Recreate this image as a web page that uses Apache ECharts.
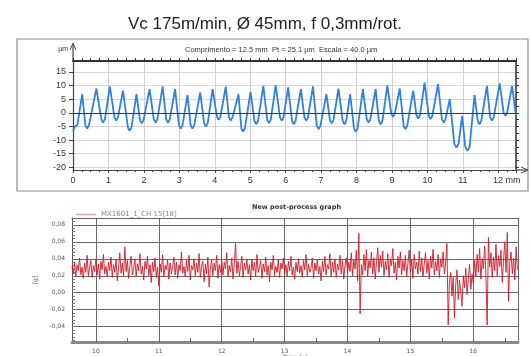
<!DOCTYPE html>
<html>
<head>
<meta charset="utf-8">
<script src="https://cdn.jsdelivr.net/npm/echarts@6/dist/echarts.min.js"></script>
<style>
html, body { margin: 0; padding: 0; background: #fff; }
#chart { width: 530px; height: 356px; }
</style>
</head>
<body>
<div id="chart"></div>
<script>
// perfil medido: [comprimento mm, altura µm]
var profile = [
  [0.00, -6.6], [0.06, -5.0], [0.12, -4.6], [0.26, 6.8],
  [0.35, -4.6], [0.40, -5.8], [0.45, -4.6], [0.66, 8.9],
  [0.80, -2.4], [0.85, -3.6], [0.90, -2.4], [1.04, 9.7],
  [1.17, -1.7], [1.22, -2.9], [1.27, -1.7], [1.41, 8.1],
  [1.55, -5.4], [1.60, -6.6], [1.65, -5.4], [1.79, 6.8],
  [1.89, -2.7], [1.94, -3.9], [1.99, -2.7], [2.16, 8.7],
  [2.28, -2.4], [2.33, -3.6], [2.38, -2.4], [2.53, 9.7],
  [2.63, -2.4], [2.68, -3.6], [2.73, -2.4], [2.88, 8.7],
  [2.99, -4.6], [3.04, -5.8], [3.09, -4.6], [3.23, 6.6],
  [3.32, -4.6], [3.37, -5.8], [3.42, -4.6], [3.59, 7.5],
  [3.70, -3.9], [3.75, -5.1], [3.80, -3.9], [3.94, 8.7],
  [4.06, -1.4], [4.11, -2.6], [4.16, -1.4], [4.31, 9.6],
  [4.40, -1.7], [4.45, -2.9], [4.50, -1.7], [4.67, 6.8],
  [4.75, -5.7], [4.80, -6.9], [4.85, -5.7], [5.01, 7.7],
  [5.12, -3.0], [5.17, -4.2], [5.22, -3.0], [5.37, 9.9],
  [5.48, -2.6], [5.53, -3.8], [5.58, -2.6], [5.72, 10.1],
  [5.84, -1.7], [5.89, -2.9], [5.94, -1.7], [6.07, 9.3],
  [6.18, -3.0], [6.23, -4.2], [6.28, -3.0], [6.43, 8.7],
  [6.53, -1.7], [6.58, -2.9], [6.63, -1.7], [6.77, 9.7],
  [6.88, -4.8], [6.93, -6.0], [6.98, -4.8], [7.15, 6.8],
  [7.25, -2.7], [7.30, -3.9], [7.35, -2.7], [7.49, 8.9],
  [7.61, -3.0], [7.66, -4.2], [7.71, -3.0], [7.82, 6.8],
  [7.93, -5.8], [7.98, -7.0], [8.03, -5.8], [8.18, 8.7],
  [8.29, -2.4], [8.34, -3.6], [8.39, -2.4], [8.54, 8.7],
  [8.63, -3.0], [8.68, -4.2], [8.73, -3.0], [8.87, 10.1],
  [8.98, -0.3], [9.03, -1.5], [9.08, -0.3], [9.22, 8.9],
  [9.33, -4.8], [9.38, -6.0], [9.43, -4.8], [9.60, 8.1],
  [9.69, -0.9], [9.74, -2.1], [9.79, -0.9], [9.92, 11.1],
  [10.04, -1.1], [10.09, -2.3], [10.14, -1.1], [10.30, 10.5],
  [10.41, -2.4], [10.46, -3.6], [10.51, -2.4], [10.63, 5.0],
  [10.76, -11.4], [10.82, -12.8], [10.88, -11.4], [10.98, -1.1],
  [11.07, -12.6], [11.13, -14.0], [11.19, -12.6], [11.33, 6.5],
  [11.42, -3.0], [11.47, -4.2], [11.52, -3.0], [11.68, 9.9],
  [11.77, -1.7], [11.82, -2.9], [11.87, -1.7], [12.04, 10.8],
  [12.15, 0.1], [12.20, -1.1], [12.25, 0.1], [12.39, 9.9],
  [12.50, -1.1]
];
var profXLabels = [0, 1, 2, 3, 4, 5, 6, 7, 8, 9, 10, 11, 12];
var profYTicks = [-20, -15, -10, -5, 0, 5, 10, 15];
var profYMinor = [-20, -17.5, -15, -12.5, -10, -7.5, -5, -2.5, 0, 2.5, 5, 7.5, 10, 12.5, 15, 17.5];

// aceleração [g], amostras a cada 0.02 s a partir de 9.62 s
var accelStart = 9.62;
var accelStep = 0.02;
var accel = [
  0.031, 0.022, 0.036, 0.019, 0.033, 0.026, 0.041, 0.021, 0.030, 0.017,
  0.035, 0.024, 0.044, 0.020, 0.029, 0.038, 0.018, 0.032, 0.025, 0.040,
  0.021, 0.034, 0.016, 0.037, 0.027, 0.045, 0.022, 0.031, 0.019, 0.036,
  0.026, 0.042, 0.018, 0.033, 0.024, 0.039, 0.014, 0.030, 0.047, 0.023,
  0.035, 0.020, 0.054, 0.025, 0.038, 0.017, 0.032, 0.043, 0.021, 0.029,
  0.040, 0.019, 0.034, 0.026, 0.046, 0.022, 0.031, 0.015, 0.037, 0.028,
  0.043, 0.020, 0.033, 0.012, 0.036, 0.025, 0.041, 0.018, 0.030, 0.008,
  0.034, 0.024, 0.045, 0.019, 0.032, 0.027, 0.039, 0.016, 0.035, 0.022,
  0.030, 0.042, 0.021, 0.036, 0.017, 0.033, 0.026, 0.048, 0.023, 0.031,
  0.019, 0.038, 0.025, 0.044, 0.015, 0.032, 0.027, 0.040, 0.020, 0.035,
  0.024, 0.046, 0.018, 0.031, 0.037, 0.013, 0.034, 0.022, 0.042, 0.007,
  0.029, 0.039, 0.020, 0.035, 0.026, 0.044, 0.017, 0.033, 0.024, 0.038,
  0.021, 0.036, 0.028, 0.047, 0.019, 0.032, 0.025, 0.041, 0.016, 0.034,
  0.058, 0.023, 0.037, 0.020, 0.031, 0.043, 0.018, 0.035, 0.027, 0.039,
  0.022, 0.033, 0.015, 0.040, 0.026, 0.036, 0.019, 0.045, 0.024, 0.030,
  0.038, 0.017, 0.034, 0.025, 0.042, 0.021, 0.032, 0.013, 0.036, 0.027,
  0.044, 0.020, 0.031, 0.024, 0.039, 0.018, 0.035, 0.028, 0.041, 0.022,
  0.033, 0.019, 0.037, 0.026, 0.043, 0.021, 0.030, 0.016, 0.036, 0.025,
  0.040, 0.023, 0.032, 0.018, 0.038, 0.027, 0.045, 0.020, 0.034, 0.024,
  0.029, 0.041, 0.017, 0.035, 0.026, 0.039, 0.022, 0.031, 0.014, 0.037,
  0.025, 0.043, 0.021, 0.033, 0.028, 0.046, 0.019, 0.036, 0.024, 0.040,
  0.018, 0.034, 0.027, 0.044, 0.022, 0.038, 0.016, 0.032, 0.041, 0.023,
  0.036, 0.025, 0.047, 0.020, 0.039, 0.028, 0.050, 0.014, 0.070, -0.025,
  0.033, 0.021, 0.045, 0.026, 0.051, 0.019, 0.038, 0.029, 0.048, 0.022,
  0.041, 0.016, 0.035, 0.053, 0.024, 0.044, 0.030, 0.049, 0.020, 0.037,
  0.027, 0.046, 0.018, 0.040, 0.032, 0.052, 0.023, 0.036, 0.015, 0.043,
  0.029, 0.048, 0.021, 0.038, 0.026, 0.044, 0.019, 0.034, 0.050, 0.024,
  0.039, 0.017, 0.045, 0.028, 0.036, 0.022, 0.049, 0.025, 0.041, 0.019,
  0.034, 0.047, 0.023, 0.038, 0.016, 0.043, 0.029, 0.051, 0.021, 0.037,
  0.026, 0.045, 0.018, 0.040, 0.030, 0.048, 0.022, 0.035, 0.058, -0.038,
  0.012, 0.024, -0.004, 0.018, -0.030, 0.010, 0.027, -0.008, 0.015, 0.002,
  -0.016, 0.020, 0.006, 0.029, -0.002, 0.016, 0.033, 0.004, 0.022, 0.011,
  0.038, 0.019, 0.045, 0.024, 0.052, 0.016, 0.040, 0.028, 0.055, 0.021,
  -0.038, 0.065, 0.030, 0.047, 0.018, 0.042, 0.026, 0.057, 0.020, 0.044,
  0.031, 0.050, 0.012, 0.039, 0.060, 0.024, 0.071, -0.010, 0.036, 0.048,
  0.022, 0.041, 0.015, 0.054, 0.027
];
var timeLabels = [10, 11, 12, 13, 14, 15, 16];
var timeTicks = [10, 10.5, 11, 11.5, 12, 12.5, 13, 13.5, 14, 14.5, 15, 15.5, 16, 16.5];
var gLabels = [-0.04, -0.02, 0, 0.02, 0.04, 0.06, 0.08];
var gTicks = [-0.056, -0.052, -0.048, -0.044, -0.04, -0.036, -0.032, -0.028, -0.024, -0.02,
  -0.016, -0.012, -0.008, -0.004, 0, 0.004, 0.008, 0.012, 0.016, 0.02, 0.024, 0.028, 0.032,
  0.036, 0.04, 0.044, 0.048, 0.052, 0.056, 0.06, 0.064, 0.068, 0.072, 0.076, 0.08, 0.084, 0.088];

var accelData = accel.map(function (v, i) {
  return [+(accelStart + i * accelStep).toFixed(2), v];
});

var myChart = echarts.init(document.getElementById('chart'));

var topFont = 'Liberation Sans, Arial, sans-serif';
var botFont = 'DejaVu Sans, Verdana, sans-serif';

option = {
  animation: false,
  backgroundColor: '#fff',
  title: [{
    text: 'Vc 175m/min, Ø 45mm, f 0,3mm/rot.',
    left: 'center', top: 11,
    textStyle: { fontFamily: topFont, fontSize: 17, fontWeight: 'normal', color: '#222' }
  }, {
    text: 'Comprimento = 12.5 mm  Pt = 25.1 µm  Escala = 40.0 µm',
    left: 180, top: 41,
    textStyle: { fontFamily: topFont, fontSize: 7.5, fontWeight: 'normal', color: '#333' }
  }, {
    text: 'New post-process graph',
    left: 247, top: 199,
    textStyle: { fontFamily: botFont, fontSize: 6.5, fontWeight: 'bold', color: '#333' }
  }],
  legend: {
    left: 71, top: 206,
    itemWidth: 20, itemHeight: 1.5, itemGap: 6,
    data: [{ name: 'MX1601_1_CH 15[18]', icon: 'rect', itemStyle: { color: '#f2a1a9' } }],
    textStyle: { fontFamily: botFont, fontSize: 7, color: '#888' }
  },
  grid: [
    { left: 73, top: 61, width: 443, height: 109, outerBoundsMode: 'none' },
    { left: 72, top: 218, width: 446, height: 124, outerBoundsMode: 'none' }
  ],
  xAxis: [{
    // perfil, eixo inferior
    type: 'value', gridIndex: 0, position: 'bottom',
    min: 0, max: 12.5, interval: 1,
    axisLine: { onZero: false, lineStyle: { color: '#444', width: 1.2 } },
    axisTick: { inside: false, length: 3, lineStyle: { color: '#444' } },
    minorTick: { show: true, splitNumber: 4, length: 2, lineStyle: { color: '#444' } },
    axisLabel: {
      customValues: profXLabels, margin: 6,
      fontFamily: topFont, fontSize: 9, color: '#333',
      formatter: function (v) { return v === 12 ? '{u|12 mm}' : String(v); },
      rich: { u: { padding: [0, 0, 0, 17], fontFamily: topFont, fontSize: 9, color: '#333' } }
    },
    splitLine: { show: true, lineStyle: { color: '#cfcfcf', width: 1 } }
  }, {
    // perfil, borda superior
    type: 'value', gridIndex: 0, position: 'top',
    min: 0, max: 12.5, interval: 1,
    axisLine: { onZero: false, lineStyle: { color: '#333', width: 2 } },
    axisTick: { inside: false, length: 3, lineStyle: { color: '#333' } },
    minorTick: { show: true, splitNumber: 4, length: 3, lineStyle: { color: '#333' } },
    axisLabel: { show: false },
    splitLine: { show: false }
  }, {
    // tempo
    type: 'value', gridIndex: 1, position: 'bottom',
    min: 9.62, max: 16.71,
    name: 'Time [s]', nameLocation: 'middle', nameGap: 11,
    nameTextStyle: { fontFamily: botFont, fontSize: 6, color: '#555' },
    axisLine: { onZero: false, lineStyle: { color: '#888', width: 3 } },
    axisTick: { customValues: timeTicks, inside: true, length: 4, lineStyle: { color: '#666' } },
    axisLabel: { customValues: timeLabels, margin: 6, fontFamily: botFont, fontSize: 6, color: '#555' },
    splitLine: { show: false }
  }, {
    // tempo, grade vertical e borda superior
    type: 'value', gridIndex: 1, position: 'top',
    min: 9.62, max: 16.71,
    axisLine: { onZero: false, lineStyle: { color: '#666', width: 1 } },
    axisTick: { show: false, customValues: timeLabels },
    axisLabel: { show: false },
    splitLine: { show: true, lineStyle: { color: '#6a6a6a', width: 1 } }
  }],
  yAxis: [{
    type: 'value', gridIndex: 0, position: 'left',
    min: -21, max: 19,
    name: 'µm', nameLocation: 'end', nameGap: 8,
    nameTextStyle: { fontFamily: topFont, fontSize: 7, color: '#333', align: 'right', padding: [0, 5, 0, 0] },
    axisLine: { onZero: false, lineStyle: { color: '#444', width: 1.2 } },
    axisTick: { customValues: profYTicks, inside: false, length: 4, lineStyle: { color: '#444' } },
    axisLabel: { customValues: profYTicks, margin: 7, fontFamily: topFont, fontSize: 9, color: '#333' },
    splitLine: { show: true, lineStyle: { color: '#d6d6d6', width: 1 } }
  }, {
    type: 'value', gridIndex: 0, position: 'right',
    min: -21, max: 19,
    axisLine: { onZero: false, lineStyle: { color: '#333', width: 1.5 } },
    axisTick: { customValues: profYMinor, inside: false, length: 3, lineStyle: { color: '#333' } },
    axisLabel: { show: false },
    splitLine: { show: false }
  }, {
    type: 'value', gridIndex: 1, position: 'left',
    min: -0.058, max: 0.088,
    name: '[g]', nameLocation: 'middle', nameGap: 22,
    nameTextStyle: { fontFamily: botFont, fontSize: 6, color: '#555' },
    axisLine: { onZero: false, lineStyle: { color: '#555', width: 1 } },
    axisTick: { customValues: gTicks, inside: true, length: 3, lineStyle: { color: '#777' } },
    axisLabel: {
      customValues: gLabels, margin: 7, fontFamily: botFont, fontSize: 6, color: '#555',
      formatter: function (v) { return v.toFixed(2).replace('.', ','); }
    },
    splitLine: { show: false }
  }, {
    type: 'value', gridIndex: 1, position: 'right',
    min: -0.058, max: 0.088,
    axisLine: { onZero: false, lineStyle: { color: '#666', width: 1 } },
    axisTick: { show: false, customValues: gLabels },
    axisLabel: { show: false },
    splitLine: { show: true, lineStyle: { color: '#6a6a6a', width: 1 } }
  }],
  series: [{
    name: 'perfil',
    type: 'line',
    xAxisIndex: 0, yAxisIndex: 0,
    data: profile,
    showSymbol: false,
    lineStyle: { color: '#2f80e0', width: 1.8 },
    itemStyle: { color: '#2f80e0' },
    markLine: {
      silent: true, symbol: 'none', label: { show: false },
      lineStyle: { color: '#3a3a3a', width: 1, type: 'solid' },
      data: [{ yAxis: 0 }]
    },
    z: 3
  }, {
    name: 'MX1601_1_CH 15[18]',
    type: 'line',
    xAxisIndex: 2, yAxisIndex: 2,
    data: accelData,
    showSymbol: false,
    lineStyle: { color: '#cf1b29', width: 0.9 },
    itemStyle: { color: '#cf1b29' },
    z: 3
  }],
  graphic: [
    // moldura do gráfico de perfil
    { type: 'rect', shape: { x: 17, y: 39, width: 511, height: 152 },
      style: { fill: 'none', stroke: '#8c8c8c', lineWidth: 1.2 } },
    // setas dos eixos
    { type: 'line', shape: { x1: 73, y1: 61, x2: 73, y2: 44 }, style: { stroke: '#444', lineWidth: 1.2 } },
    { type: 'polyline', shape: { points: [[70, 50], [73, 43], [76, 50]] }, style: { stroke: '#444', lineWidth: 1, fill: 'none' } },
    { type: 'line', shape: { x1: 516, y1: 170, x2: 527, y2: 170 }, style: { stroke: '#444', lineWidth: 1.2 } },
    { type: 'polyline', shape: { points: [[521, 167], [528, 170], [521, 173]] }, style: { stroke: '#444', lineWidth: 1, fill: 'none' } }
  ]
};
myChart.setOption(option);
</script>
</body>
</html>
